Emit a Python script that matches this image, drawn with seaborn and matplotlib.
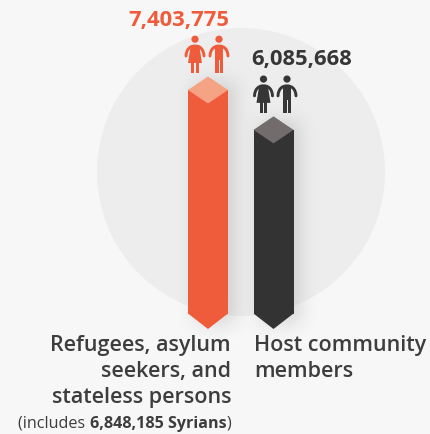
import numpy as np
import pandas as pd
import matplotlib
matplotlib.use("Agg")
import matplotlib.pyplot as plt
from matplotlib.patches import Polygon, Rectangle, PathPatch
from matplotlib.path import Path
import seaborn as sns

categories = ["Refugees, asylum\nseekers, and\nstateless persons", "Host community\nmembers"]
values = [7403775, 6085668]
value_labels = ["7,403,775", "6,085,668"]
note_parts = ["(includes ", "6,848,185 Syrians", ")"]
bar_colors = ["#ef5c3c", "#333333"]
cap_colors = ["#f4a384", "#726c6c"]
label_colors = ["#ef5c3c", "#363636"]
text_color = "#3d3d3d"
background = "#f7f7f7"
disc_color = "#ededed"

W, H = 430, 434
BASE_PX = 314
X0_PX = 208
STEP_PX = 65.5
PER_PX = values[0] / 224.0

sns.set_theme(style="white")
plt.rcParams["font.family"] = ["Open Sans", "DejaVu Sans"]

fig = plt.figure(figsize=(W / 100, H / 100), dpi=100, facecolor=background)
ax = fig.add_axes([0, 0, 1, 1])
ax.set_facecolor("none")

df = pd.DataFrame({"group": categories, "people": values})
sns.barplot(data=df, x="group", y="people", hue="group", palette=bar_colors,
            width=40 / STEP_PX, legend=False, saturation=1, linewidth=0, ax=ax, zorder=5)
xlim = (-X0_PX / STEP_PX, (W - X0_PX) / STEP_PX)
ylim = (-(H - BASE_PX) * PER_PX, BASE_PX * PER_PX)
ax.set_xlim(xlim)
ax.set_ylim(ylim)
ax.set_xlabel("")
ax.set_ylabel("")
ax.set_xticks([])
ax.set_yticks([])
sns.despine(ax=ax, left=True, bottom=True)

dx = lambda px: px / STEP_PX
dy = lambda px: px * PER_PX


def in_px(x, y):
    """Map x/y pixel offsets around a data anchor into data coordinates."""
    return lambda pts: [(x + dx(a), y + dy(b)) for a, b in pts]


# backdrop disc
disc_cx, disc_cy = dx(241 - X0_PX), dy(BASE_PX - 172)
ax.add_patch(Polygon(
    [(disc_cx + dx(144 * np.cos(t)), disc_cy + dy(144 * np.sin(t)))
     for t in np.linspace(0, 2 * np.pi, 360)],
    closed=True, fc=disc_color, ec="none", zorder=2))

columns = [p for p in ax.patches if isinstance(p, Rectangle)]

# soft shadow of the columns, blurred and shifted to the right
mask = np.zeros((H, W))
for bar in columns:
    left, top = ax.transData.transform((bar.get_x(), bar.get_height()))
    right, _ = ax.transData.transform((bar.get_x() + bar.get_width(), 0))
    mask[int(H - top) - 8:BASE_PX + 10, int(left) + 7:int(right) + 7] = 1.0
radius = np.arange(-30, 31)
kernel = np.exp(-radius ** 2 / (2 * 9.0 ** 2))
kernel /= kernel.sum()
mask = np.apply_along_axis(lambda r: np.convolve(r, kernel, mode="same"), 1, mask)
mask = np.apply_along_axis(lambda c: np.convolve(c, kernel, mode="same"), 0, mask)
shade = np.zeros((H, W, 4))
shade[..., :3] = 0.25
shade[..., 3] = mask * 0.17
ax.imshow(shade, extent=(*xlim, *ylim), aspect="auto", origin="upper",
          interpolation="bilinear", zorder=3)
ax.set_xlim(xlim)
ax.set_ylim(ylim)


def person(x, y, colour, woman):
    """Pictogram standing on (x, y), drawn in pixel offsets."""
    to = in_px(x, y)
    ax.add_patch(Polygon(to([(3.6 * np.cos(t), 33.8 + 3.6 * np.sin(t))
                             for t in np.linspace(0, 2 * np.pi, 40)]),
                         closed=True, fc=colour, ec="none", zorder=7))
    # curved shoulders and arms
    arc = Path(to([(-9.0, 17), (-8.6, 24), (-5, 27), (0, 27),
                   (5, 27), (8.6, 24), (9.0, 17)]),
               [Path.MOVETO, Path.CURVE4, Path.CURVE4, Path.CURVE4,
                Path.CURVE4, Path.CURVE4, Path.CURVE4])
    ax.add_patch(PathPatch(arc, fc="none", ec=colour, lw=2.1, capstyle="round", zorder=7))
    if woman:
        shapes = [[(-4.2, 28), (4.2, 28), (7, 10), (-7, 10)],
                  [(-3.8, 12), (-0.9, 12), (-0.9, 0), (-3.8, 0)],
                  [(0.9, 12), (3.8, 12), (3.8, 0), (0.9, 0)]]
    else:
        shapes = [[(-4.2, 28), (4.2, 28), (4.2, 13), (-4.2, 13)],
                  [(-4.2, 14), (-0.5, 14), (-0.5, 0), (-4.2, 0)],
                  [(0.5, 14), (4.2, 14), (4.2, 0), (0.5, 0)]]
    for s in shapes:
        ax.add_patch(Polygon(to(s), closed=True, fc=colour, ec="none", zorder=7))


icon_offsets = [(-13, 11), (-10, 13.5)]
label_lift = [69.5, 70.5]

for i, bar in enumerate(columns):
    x, val = bar.get_x() + bar.get_width() / 2, bar.get_height()
    half = 20

    # pointed foot and lozenge top
    ax.add_patch(Polygon(in_px(x, 0)([(-half, 0.5), (half, 0.5), (0, -15)]),
                         closed=True, fc=bar_colors[i], ec="none", zorder=5))
    ax.add_patch(Polygon(in_px(x, val)([(-half, 0), (0, 13.5), (half, 0), (0, -13.5)]),
                         closed=True, fc=cap_colors[i], ec="none", zorder=6))

    feet_y = val + dy(17)
    person(x + dx(icon_offsets[i][0]), feet_y, label_colors[i], True)
    person(x + dx(icon_offsets[i][1]), feet_y, label_colors[i], False)

    if i == 0:
        ax.text(x + dx(21), val + dy(label_lift[i]), value_labels[i], ha="right", va="center",
                fontsize=15.8, fontweight="bold", color=label_colors[i], zorder=8)
        ax.text(x + dx(23), dy(-21.5), categories[i], ha="right", va="top", fontsize=15.5,
                fontweight="semibold", color=text_color, linespacing=1.29, zorder=8)
    else:
        ax.text(x - dx(22), val + dy(label_lift[i]), value_labels[i], ha="left", va="center",
                fontsize=15.8, fontweight="bold", color=label_colors[i], zorder=8)
        ax.text(x - dx(19.5), dy(-21.5), categories[i], ha="left", va="top", fontsize=15.5,
                fontweight="semibold", color=text_color, linespacing=1.29, zorder=8)

# footnote under the first column, set right to left so the mixed weights butt up
renderer = fig.canvas.get_renderer()
right = ax.transData.transform((dx(23), 0))[0]
note_y = dy(BASE_PX - 424)
for part, weight in zip(note_parts[::-1], ["normal", "bold", "normal"]):
    t = ax.text(0, note_y, part.replace(" ", "\u00a0"), ha="right", va="center", fontsize=11.6,
                fontweight=weight, color=text_color, zorder=8)
    t.set_x(ax.transData.inverted().transform((right, 0))[0])
    right = t.get_window_extent(renderer).x0

fig.savefig("out.png", dpi=100, facecolor=background)
